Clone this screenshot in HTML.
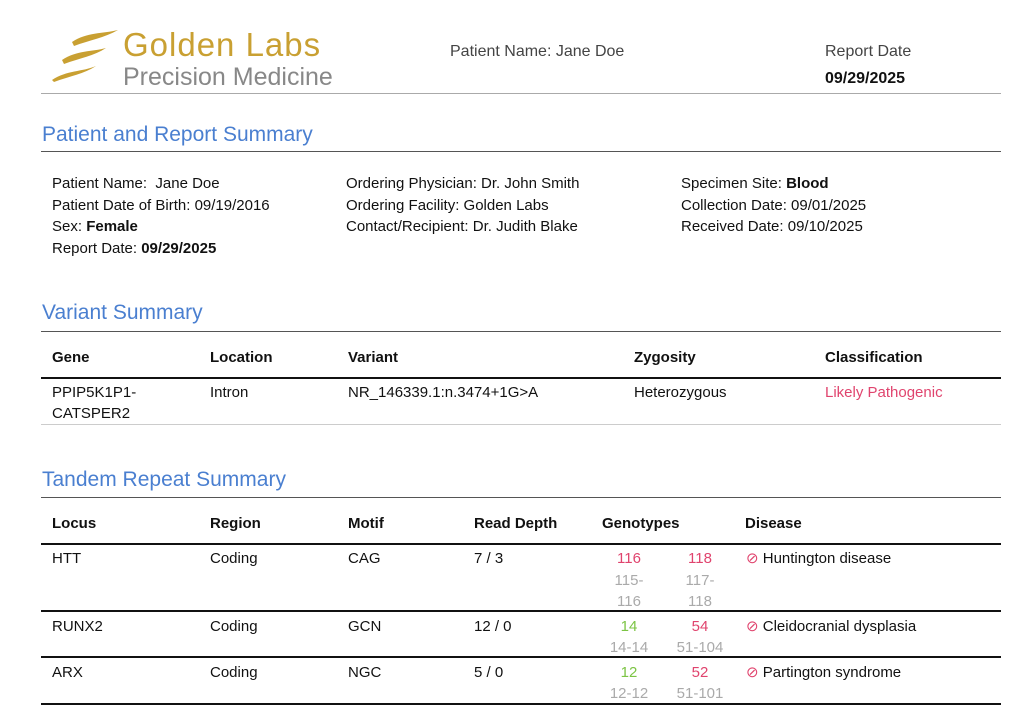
<!DOCTYPE html>
<html><head><meta charset="utf-8"><style>
body{margin:0;width:1024px;height:708px;background:#fff;font-family:"Liberation Sans",sans-serif;color:#111;position:relative;overflow:hidden}
.t{position:absolute;font-size:15px;line-height:18px;white-space:nowrap;transform:translateY(1px)}
.h{position:absolute;font-size:21px;color:#4a7fd0;line-height:26px;transform:translateY(1px)}
.l{position:absolute;left:41px;width:960px}
.b{font-weight:bold}
.r{color:#e0446e}.g{color:#7cc444}.gr{color:#aaa}
.c{text-align:center;width:60px}
</style></head><body>
<svg style="position:absolute;left:52px;top:28px" width="68" height="56" viewBox="0 0 68 56">
<path d="M20 14 C35 4 50 6 66 2 C52 10 38 12 22 18Z" fill="#c9a032"/>
<path d="M10 32 C25 22 40 24 54 20 C42 28 28 30 12 36Z" fill="#c9a032"/>
<path d="M0 52 C15 42 30 44 44 38 C32 46 18 48 2 54Z" fill="#c9a032"/>
</svg>
<div class="t" style="left:123px;top:25px;font-size:33px;line-height:38px;color:#c9a032;letter-spacing:1px">Golden Labs</div>
<div class="t" style="left:123px;top:61px;font-size:25px;line-height:30px;color:#888">Precision Medicine</div>
<div class="t" style="left:450px;top:42px;font-size:16px;color:#444">Patient Name: Jane Doe</div>
<div class="t" style="left:825px;top:42px;font-size:16px;color:#444">Report Date</div>
<div class="t b" style="left:825px;top:69px;font-size:16px">09/29/2025</div>
<div class="l" style="top:93px;height:1px;background:#aaa"></div>

<div class="h" style="top:121px;left:42px">Patient and Report Summary</div>
<div class="l" style="top:151px;height:1px;background:#555"></div>
<div class="t" style="left:52px;top:174px">Patient Name:&nbsp; Jane Doe</div>
<div class="t" style="left:52px;top:196px">Patient Date of Birth: 09/19/2016</div>
<div class="t" style="left:52px;top:217px">Sex: <b>Female</b></div>
<div class="t" style="left:52px;top:239px">Report Date: <b>09/29/2025</b></div>
<div class="t" style="left:346px;top:174px">Ordering Physician: Dr. John Smith</div>
<div class="t" style="left:346px;top:196px">Ordering Facility: Golden Labs</div>
<div class="t" style="left:346px;top:217px">Contact/Recipient: Dr. Judith Blake</div>
<div class="t" style="left:681px;top:174px">Specimen Site: <b>Blood</b></div>
<div class="t" style="left:681px;top:196px">Collection Date: 09/01/2025</div>
<div class="t" style="left:681px;top:217px">Received Date: 09/10/2025</div>

<div class="h" style="top:299px;left:42px">Variant Summary</div>
<div class="l" style="top:331px;height:1px;background:#555"></div>
<div class="t b" style="left:52px;top:348px">Gene</div>
<div class="t b" style="left:210px;top:348px">Location</div>
<div class="t b" style="left:348px;top:348px">Variant</div>
<div class="t b" style="left:634px;top:348px">Zygosity</div>
<div class="t b" style="left:825px;top:348px">Classification</div>
<div class="l" style="top:377px;height:2px;background:#111"></div>
<div class="t" style="left:52px;top:383px">PPIP5K1P1-</div>
<div class="t" style="left:52px;top:404px">CATSPER2</div>
<div class="t" style="left:210px;top:383px">Intron</div>
<div class="t" style="left:348px;top:383px">NR_146339.1:n.3474+1G&gt;A</div>
<div class="t" style="left:634px;top:383px">Heterozygous</div>
<div class="t r" style="left:825px;top:383px">Likely Pathogenic</div>
<div class="l" style="top:424px;height:1px;background:#ccc"></div>

<div class="h" style="top:466px;left:42px">Tandem Repeat Summary</div>
<div class="l" style="top:497px;height:1px;background:#555"></div>
<div class="t b" style="left:52px;top:514px">Locus</div>
<div class="t b" style="left:210px;top:514px">Region</div>
<div class="t b" style="left:348px;top:514px">Motif</div>
<div class="t b" style="left:474px;top:514px">Read Depth</div>
<div class="t b" style="left:602px;top:514px">Genotypes</div>
<div class="t b" style="left:745px;top:514px">Disease</div>
<div class="l" style="top:543px;height:2px;background:#111"></div>

<div class="t" style="left:52px;top:549px">HTT</div>
<div class="t" style="left:210px;top:549px">Coding</div>
<div class="t" style="left:348px;top:549px">CAG</div>
<div class="t" style="left:474px;top:549px">7 / 3</div>
<div class="t r c" style="left:599px;top:549px">116</div>
<div class="t gr c" style="left:599px;top:571px">115-</div>
<div class="t gr c" style="left:599px;top:592px">116</div>
<div class="t r c" style="left:670px;top:549px">118</div>
<div class="t gr c" style="left:670px;top:571px">117-</div>
<div class="t gr c" style="left:670px;top:592px">118</div>
<div class="t" style="left:746px;top:549px"><span class="r">⊘</span> Huntington disease</div>
<div class="l" style="top:610px;height:2px;background:#111"></div>

<div class="t" style="left:52px;top:617px">RUNX2</div>
<div class="t" style="left:210px;top:617px">Coding</div>
<div class="t" style="left:348px;top:617px">GCN</div>
<div class="t" style="left:474px;top:617px">12 / 0</div>
<div class="t g c" style="left:599px;top:617px">14</div>
<div class="t gr c" style="left:599px;top:638px">14-14</div>
<div class="t r c" style="left:670px;top:617px">54</div>
<div class="t gr c" style="left:670px;top:638px">51-104</div>
<div class="t" style="left:746px;top:617px"><span class="r">⊘</span> Cleidocranial dysplasia</div>
<div class="l" style="top:656px;height:2px;background:#111"></div>

<div class="t" style="left:52px;top:663px">ARX</div>
<div class="t" style="left:210px;top:663px">Coding</div>
<div class="t" style="left:348px;top:663px">NGC</div>
<div class="t" style="left:474px;top:663px">5 / 0</div>
<div class="t g c" style="left:599px;top:663px">12</div>
<div class="t gr c" style="left:599px;top:684px">12-12</div>
<div class="t r c" style="left:670px;top:663px">52</div>
<div class="t gr c" style="left:670px;top:684px">51-101</div>
<div class="t" style="left:746px;top:663px"><span class="r">⊘</span> Partington syndrome</div>
<div class="l" style="top:703px;height:2px;background:#111"></div>
</body></html>
